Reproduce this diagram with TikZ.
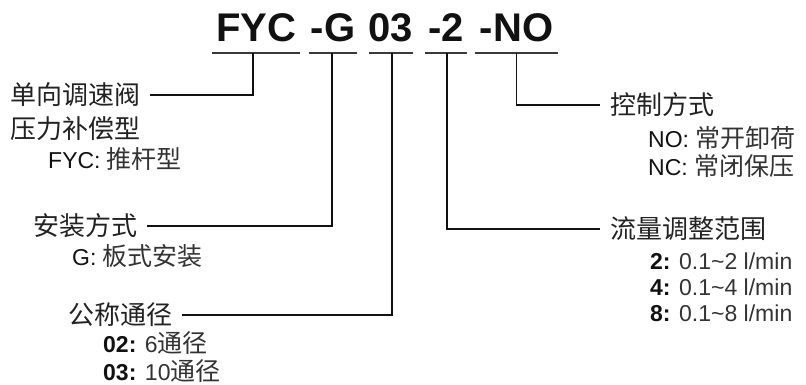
\documentclass[tikz,border=0pt]{standalone}
\usepackage{fontspec}
\setmainfont{Liberation Sans}
\newfontfamily\cjk{Noto Sans CJK SC}
\usetikzlibrary{positioning,calc}
\definecolor{ink}{HTML}{111111}
\definecolor{rule}{HTML}{3A3A3A}
\definecolor{body}{HTML}{222222}
\definecolor{soft}{HTML}{333333}
\newcommand{\zh}[1]{{\cjk\fontsize{25}{28}\selectfont #1}}

\begin{document}
\begin{tikzpicture}[x=1pt,y=-1pt,
  code/.style={font=\bfseries\fontsize{40}{40}\selectfont, text=ink, inner sep=0pt, text depth=11pt, anchor=base},
  head/.style={font=\cjk\fontsize{26}{30}\selectfont, text=body, inner ysep=0pt, inner xsep=10pt, anchor=west},
  sub/.style={font=\fontsize{23}{26}\selectfont, text=soft, inner sep=0pt, anchor=west},
  uline/.style={draw=rule, line width=2pt},
  link/.style={draw=ink, line width=1.6pt},
]
\path[use as bounding box] (0,0) rectangle (806,385);
% model code with one underline per field
\node[code, minimum width=88pt] (kfyc) at (256,42) {FYC};
\node[code, minimum width=48pt] (kg) at (333,42) {-G};
\node[code, minimum width=44pt] (k03) at (391,42) {03};
\node[code, minimum width=42pt] (k2) at (446,42) {-2};
\node[code, minimum width=83pt] (kno) at (516.5,42) {-NO};
\foreach \k in {kfyc,kg,k03,k2,kno}
  \draw[uline] (\k.south west) -- (\k.south east);
% left column: valve type, mounting, bore
\node[head] (valve) at (0,95) {单向调速阀};
\node[head] (comp) at (0,129) {压力补偿型};
\node[sub] (pushrod) at (48,159) {\textcolor{ink}{FYC:} \zh{推杆型}};
\node[head] (mount) at (23,226) {安装方式};
\node[sub] (plate) at (72,256) {\textcolor{ink}{G:} \zh{板式安装}};
\node[head] (bore) at (58,315) {公称通径};
\node[sub] (b02) at (103,343) {\textbf{\textcolor{ink}{02:}} 6\zh{通径}};
\node[sub] (b03) at (103,371) {\textbf{\textcolor{ink}{03:}} 10\zh{通径}};
% right column: control, flow range
\node[head] (ctrl) at (600,105) {控制方式};
\node[sub] (no) at (648,138) {\textcolor{ink}{NO:} \zh{常开卸荷}};
\node[sub] (nc) at (648,166) {\textcolor{ink}{NC:} \zh{常闭保压}};
\node[head] (flow) at (600,229) {流量调整范围};
\node[sub] (f2) at (650,261) {\textbf{\textcolor{ink}{2:}} 0.1\textasciitilde2 l/min};
\node[sub] (f4) at (650,287) {\textbf{\textcolor{ink}{4:}} 0.1\textasciitilde4 l/min};
\node[sub] (f8) at (650,313) {\textbf{\textcolor{ink}{8:}} 0.1\textasciitilde8 l/min};
% leaders
\draw[link] ([xshift=-3pt]kfyc.south) |- (valve.east);
\draw[link] ([xshift=-1pt]kg.south) |- (mount.east);
\draw[link] ([xshift=1pt]k03.south) |- (bore.east);
\draw[link] ([xshift=1pt]k2.south) |- (flow.west);
\draw[link] (kno.south) |- (ctrl.west);
\end{tikzpicture}
\end{document}
